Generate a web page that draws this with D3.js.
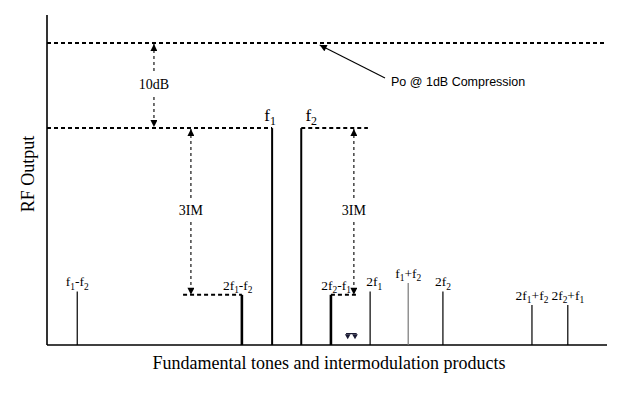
<!DOCTYPE html>
<html>
<head>
<meta charset="utf-8">
<script src="https://cdn.jsdelivr.net/npm/d3@7"></script>
<style>
  body { margin: 0; background: #fff; }
  svg { display: block; }
</style>
</head>
<body>
<svg id="chart" width="643" height="396"></svg>
<script>
// tones: label parts [text, subscript?], position along the (schematic) frequency axis, level in dB rel. fundamentals
var toneNames = ["f1-f2", "2f1-f2", "f1", "f2", "2f2-f1", "2f1", "f1+f2", "2f2", "2f1+f2", "2f2+f1"];
var toneLabels = [
  [["f"], ["1", 1], ["-f"], ["2", 1]],
  [["2f"], ["1", 1], ["-f"], ["2", 1]],
  [["f"], ["1", 1]],
  [["f"], ["2", 1]],
  [["2f"], ["2", 1], ["-f"], ["1", 1]],
  [["2f"], ["1", 1]],
  [["f"], ["1", 1], ["+f"], ["2", 1]],
  [["2f"], ["2", 1]],
  [["2f"], ["1", 1], ["+f"], ["2", 1]],
  [["2f"], ["2", 1], ["+f"], ["1", 1]]
];
var tonePos = [5.4, 34.8, 40.2, 45.4, 50.7, 57.7, 64.5, 70.7, 86.6, 93.0];
var toneLevel = [-19.2, -19.6, 0, 0, -19.6, -19.2, -18.2, -19.2, -20.8, -20.8];
var toneKind = ["other", "im3", "fund", "fund", "im3", "other", "gray", "other", "other", "other"];

var p1dB = 10;        // Po @ 1dB compression, dB above fundamentals
var im3Level = -19.6; // third order products

var svg = d3.select("#chart");
var x0 = 47, x1 = 607, yBottom = 345, yTop = 15;

var x = d3.scaleLinear().domain([0, 100]).range([x0, x1]);
var y = d3.scaleLinear().domain([-25.5, 13.3]).range([yBottom, yTop]);

var serif = "'Liberation Serif','Times New Roman',serif";
var sans = "'Liberation Sans',Arial,sans-serif";

// arrowhead markers
var defs = svg.append("defs");
defs.append("marker").attr("id", "head").attr("viewBox", "0 0 10 10")
  .attr("refX", 10).attr("refY", 5).attr("markerWidth", 8).attr("markerHeight", 7)
  .attr("markerUnits", "userSpaceOnUse").attr("orient", "auto-start-reverse")
  .append("path").attr("d", "M0,0 L10,5 L0,10 Z").attr("fill", "#000");

// axes (no ticks, just the frame lines)
svg.append("line").attr("x1", x0).attr("x2", x0).attr("y1", yTop).attr("y2", yBottom)
  .attr("stroke", "#000").attr("stroke-width", 1.6);
svg.append("line").attr("x1", x0).attr("x2", x1).attr("y1", yBottom).attr("y2", yBottom)
  .attr("stroke", "#000").attr("stroke-width", 1.6);

// reference dotted levels
function dotted(xa, xb, yv){
  svg.append("line").attr("x1", xa).attr("x2", xb).attr("y1", y(yv)).attr("y2", y(yv))
    .attr("stroke", "#000").attr("stroke-width", 2).attr("stroke-dasharray", "4,3");
}
dotted(x0, x(99.6), p1dB);
dotted(x0, x(tonePos[2]), 0);
dotted(x(tonePos[3]), x(57.3), 0);
dotted(x(24.3), x(tonePos[1]), im3Level);
dotted(x(tonePos[4]), x(55.6), im3Level);

// tones
var lw = { fund: 2, im3: 2.6, other: 1.2, gray: 1.2 };
var col = { fund: "#000", im3: "#000", other: "#000", gray: "#777" };
svg.selectAll("line.tone").data(toneNames).enter().append("line").attr("class", "tone")
  .attr("x1", function(d, i){ return x(tonePos[i]); })
  .attr("x2", function(d, i){ return x(tonePos[i]); })
  .attr("y1", function(d, i){ return y(toneLevel[i]); })
  .attr("y2", yBottom)
  .attr("stroke", function(d, i){ return col[toneKind[i]]; })
  .attr("stroke-width", function(d, i){ return lw[toneKind[i]]; });

// tone labels with subscripts
var labelDx = [0, 0, -2, 10, 0, 4, 0, 0, 0, 0];
toneNames.forEach(function(d, i){
  var fund = toneKind[i] == "fund";
  var fs = fund ? 17 : 13.5;
  var t = svg.append("text")
    .attr("x", x(tonePos[i]) + labelDx[i])
    .attr("y", y(toneLevel[i]) - (fund ? 7 : 5))
    .attr("text-anchor", i == 1 ? "start" : (i == 4 ? "end" : "middle"))
    .attr("font-family", serif).attr("font-size", fs);
  if (i == 1) t.attr("x", x(tonePos[i]) - 19);
  if (i == 4) t.attr("x", x(tonePos[i]) + 20);
  toneLabels[i].forEach(function(p){
    var s = t.append("tspan").text(p[0]);
    if (p[1]) s.attr("font-size", fs * 0.7).attr("dy", fs * 0.25);
    else if (t.selectAll("tspan").size() > 1) s.attr("dy", -fs * 0.25);
  });
});

// dashed double arrows with a label gap
function dimArrow(xv, ya, yb, label, gapA, gapB){
  var g = svg.append("g");
  g.append("line").attr("x1", xv).attr("x2", xv).attr("y1", gapA).attr("y2", ya)
    .attr("stroke", "#000").attr("stroke-width", 1.1).attr("stroke-dasharray", "3,3")
    .attr("marker-end", "url(#head)");
  g.append("line").attr("x1", xv).attr("x2", xv).attr("y1", gapB).attr("y2", yb)
    .attr("stroke", "#000").attr("stroke-width", 1.1).attr("stroke-dasharray", "3,3")
    .attr("marker-end", "url(#head)");
  g.append("text").attr("x", xv).attr("y", (gapA + gapB) / 2 + 5).attr("text-anchor", "middle")
    .attr("font-family", serif).attr("font-size", 14).text(label);
}
dimArrow(x(19.1), y(p1dB) + 1, y(0) - 1, "10dB", 71, 97);
dimArrow(x(25.7), y(0) + 1, y(im3Level), "3IM", 198, 222);
dimArrow(x(54.8), y(0) + 1, y(im3Level), "3IM", 198, 222);

// small double-arrow mark below the upper 3IM product
var mark = svg.append("g").attr("fill", "#1a1a33");
[53.7, 55.0].forEach(function(p){
  mark.append("path").attr("transform", "translate(" + x(p) + ",336) rotate(180)")
    .attr("d", d3.symbol().type(d3.symbolTriangle).size(14));
});
mark.append("rect").attr("x", x(53.4)).attr("y", 333).attr("width", x(55.3) - x(53.4)).attr("height", 1.2);

// Po @ 1dB annotation
svg.append("line").attr("x1", 385).attr("y1", 78).attr("x2", x(48.7)).attr("y2", y(p1dB) + 2)
  .attr("stroke", "#000").attr("stroke-width", 1.1).attr("marker-end", "url(#head)");
svg.append("text").attr("x", 391).attr("y", 86).attr("font-family", sans).attr("font-size", 12.5)
  .text("Po @ 1dB Compression");

// axis titles
svg.append("text").attr("transform", "translate(34,174) rotate(-90)").attr("text-anchor", "middle")
  .attr("font-family", serif).attr("font-size", 18).text("RF Output");
svg.append("text").attr("x", 329).attr("y", 369).attr("text-anchor", "middle")
  .attr("font-family", serif).attr("font-size", 18).text("Fundamental tones and intermodulation products");
</script>
</body>
</html>
